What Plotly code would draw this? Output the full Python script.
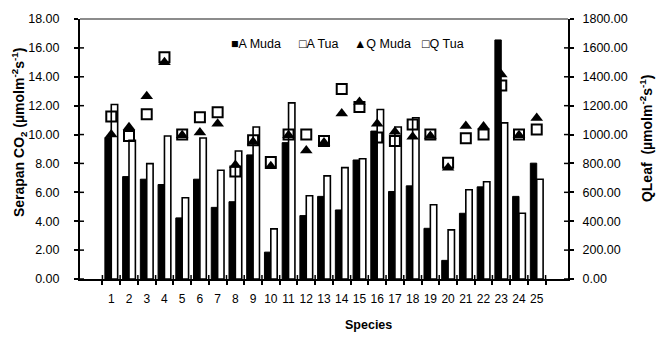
import plotly.graph_objects as go

# Species numbers on the category axis
species = [str(i) for i in range(1, 26)]

# CO2 uptake (left axis, µmol m-2 s-1)
a_muda = [9.80, 7.09, 6.91, 6.54, 4.23, 6.91, 4.96, 5.35, 8.59, 1.86,
          9.44, 4.39, 5.72, 4.78, 8.24, 10.24, 6.06, 6.45, 3.51, 1.29,
          4.55, 6.38, 16.55, 5.72, 8.02]
a_tua = [12.08, 9.60, 7.99, 9.90, 5.63, 9.76, 7.53, 8.86, 10.52, 3.47,
         12.19, 5.76, 7.14, 7.71, 8.33, 11.73, 10.52, 11.16, 5.14, 3.40,
         6.18, 6.73, 10.81, 4.55, 6.91]

# Leaf light level QLeaf (right axis, µmol m-2 s-1)
q_muda = [1000, 1050, 1265, 1500, 995, 1015, 1075, 790, 950, 780,
          995, 890, 945, 1145, 1225, 1075, 1020, 985, 990, 770,
          1060, 1055, 1415, 995, 1115]
q_tua = [1125, 990, 1140, 1535, 1000, 1120, 1155, 745, 960, 810,
         1000, 1000, 955, 1315, 1190, 980, 955, 1070, 1000, 805,
         975, 1000, 1340, 1000, 1035]

series_names = ["A Muda", "A Tua", "Q Muda", "Q Tua"]
legend_glyphs = ["■", "□", "▲", "<b>□</b>"]

left_ticks = [0, 2, 4, 6, 8, 10, 12, 14, 16, 18]
right_ticks = [0, 200, 400, 600, 800, 1000, 1200, 1400, 1600, 1800]

FONT = "Liberation Sans, Arial, sans-serif"

fig = go.Figure()
fig.add_trace(go.Bar(x=species, y=a_muda, name=series_names[0],
                     marker=dict(color="black", line=dict(color="black", width=1))))
fig.add_trace(go.Bar(x=species, y=a_tua, name=series_names[1],
                     marker=dict(color="white", line=dict(color="black", width=1.6))))
fig.add_trace(go.Scatter(x=species, y=q_muda, name=series_names[2], yaxis="y2",
                         mode="markers",
                         marker=dict(symbol="triangle-up", size=11, color="black")))
fig.add_trace(go.Scatter(x=species, y=q_tua, name=series_names[3], yaxis="y2",
                         mode="markers",
                         marker=dict(symbol="square-open", size=10, color="black",
                                     line=dict(width=2))))

L, R, T, B = 80, 89, 17, 60
W, H = 657, 339
pw, ph = W - L - R, H - T - B

def px_x(px):
    return (px - L) / pw

def px_y(py):
    return (H - B - py) / ph

shapes = []
# inner halves of the crossing tick marks
for v in left_ticks:
    shapes.append(dict(type="line", xref="paper", yref="y", x0=0, x1=4 / pw,
                       y0=v, y1=v, line=dict(color="black", width=1.5)))
for v in right_ticks:
    shapes.append(dict(type="line", xref="paper", yref="y2", x0=1 - 4 / pw, x1=1,
                       y0=v, y1=v, line=dict(color="black", width=1.5)))
for i in range(len(species) + 1):
    shapes.append(dict(type="line", xref="x", yref="paper", x0=i - 0.5, x1=i - 0.5,
                       y0=0, y1=4 / ph, line=dict(color="black", width=1.5)))
# grey frame line along the top of the plot area
shapes.append(dict(type="line", xref="paper", yref="paper", x0=0, x1=1, y0=1, y1=1,
                   line=dict(color="#8c8c8c", width=2)))

annotations = [
    dict(text="<b>Serapan CO<sub>2</sub> (µmolm<sup>-2</sup>s<sup>-1</sup>)</b>",
         textangle=-90, x=px_x(19), y=px_y(132), xref="paper", yref="paper",
         xanchor="center", yanchor="middle", showarrow=False,
         font=dict(size=14, color="black", family=FONT)),
    dict(text="<b>QLeaf  (µmolm<sup>-2</sup>s<sup>-1</sup>)</b>",
         textangle=-90, x=px_x(646), y=px_y(138), xref="paper", yref="paper",
         xanchor="center", yanchor="middle", showarrow=False,
         font=dict(size=14, color="black", family=FONT)),
    dict(text="<b>Species</b>", x=px_x(368), y=px_y(325), xref="paper", yref="paper",
         xanchor="center", yanchor="middle", showarrow=False,
         font=dict(size=12.5, color="black", family=FONT)),
]
legend_x = [229, 297, 352, 420]
for glyph, name, lx in zip(legend_glyphs, series_names, legend_x):
    annotations.append(dict(text=glyph + name, x=px_x(lx), y=px_y(42),
                            xref="paper", yref="paper", xanchor="left",
                            yanchor="middle", showarrow=False,
                            font=dict(size=12.5, color="black", family=FONT)))

fig.update_layout(
    width=W, height=H,
    margin=dict(l=L, r=R, t=T, b=B),
    paper_bgcolor="white", plot_bgcolor="white",
    font=dict(family=FONT, size=12, color="black"),
    barmode="group", bargap=0.28, bargroupgap=0,
    showlegend=False,
    xaxis=dict(type="category", showline=True, linecolor="black", linewidth=2,
               ticks="outside", ticklen=4, tickwidth=1.5, tickcolor="black",
               tickson="boundaries", showgrid=False, ticklabelstandoff=8,
               tickangle=0, tickfont=dict(size=12)),
    yaxis=dict(range=[0, 18], tickvals=left_ticks, tickformat=".2f",
               showline=True, linecolor="black", linewidth=2,
               ticks="outside", ticklen=4, tickwidth=1.5, tickcolor="black",
               showgrid=False, zeroline=False, ticklabelstandoff=12,
               tickfont=dict(size=12.5)),
    yaxis2=dict(range=[0, 1800], tickvals=right_ticks, tickformat=".2f",
                overlaying="y", side="right",
                showline=True, linecolor="black", linewidth=2,
                ticks="outside", ticklen=4, tickwidth=1.5, tickcolor="black",
                showgrid=False, zeroline=False, ticklabelstandoff=6,
                tickfont=dict(size=12.5)),
    shapes=shapes,
    annotations=annotations,
)

fig.write_html("out.html")
